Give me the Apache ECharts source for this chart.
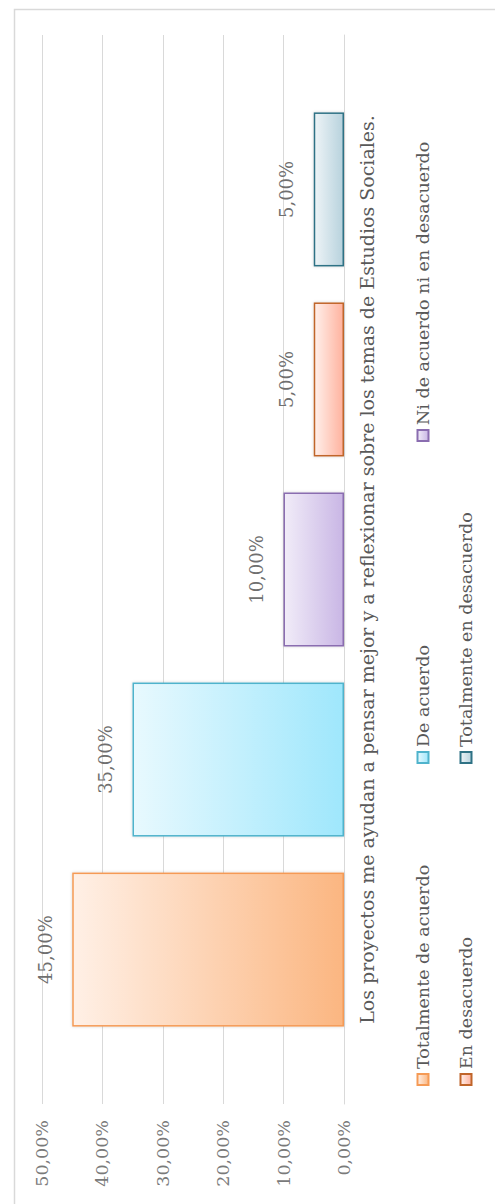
<!DOCTYPE html>
<html>
<head>
<meta charset="utf-8">
<script src="https://cdn.jsdelivr.net/npm/echarts@6/dist/echarts.min.js"></script>
<style>
  html, body { margin: 0; padding: 0; background: #ffffff; }
  body { width: 495px; height: 1204px; overflow: hidden; position: relative; }
  #chart {
    position: absolute; left: 0; top: 0;
    width: 1204px; height: 495px;
    transform-origin: 0 0;
    transform: translate(0px, 1204px) rotate(-90deg);
  }
</style>
</head>
<body>
<div id="chart"></div>
<script>
// ---- data ----
const categories = ['Los proyectos me ayudan a pensar mejor y a reflexionar sobre los temas de Estudios Sociales.'];
const seriesNames = ['Totalmente de acuerdo', 'De acuerdo', 'Ni de acuerdo ni en desacuerdo', 'En desacuerdo', 'Totalmente en desacuerdo'];
const seriesValues = [0.45, 0.35, 0.10, 0.05, 0.05];
const axisMin = 0, axisMax = 0.5, axisStep = 0.1;

// ---- styles ----
const barStyles = [
  { light: '#fff0e6', dark: '#fbb681', border: '#f59a55' },
  { light: '#e8f9fe', dark: '#9fe7fc', border: '#4fb3cc' },
  { light: '#f1ecf8', dark: '#c9b6e5', border: '#8a6db0' },
  { light: '#fff0eb', dark: '#ffb29e', border: '#c0652a' },
  { light: '#eef4f7', dark: '#b7d2dd', border: '#2f7285' }
];
const legendPos = [
  { left: 118, top: 414 }, { left: 440, top: 414 }, { left: 762, top: 414 },
  { left: 118, top: 457 }, { left: 440, top: 457 }
];
const serif = '"DejaVu Serif", "Liberation Serif", serif';
const fmt = v => (v * 100).toFixed(2).replace('.', ',') + '%';

const chart = echarts.init(document.getElementById('chart'), null, { renderer: 'svg', width: 1204, height: 495 });

const series = seriesNames.map((name, i) => ({
  name: name,
  type: 'bar',
  data: [seriesValues[i]],
  barWidth: 154,
  barGap: '23.4%',
  itemStyle: {
    color: new echarts.graphic.LinearGradient(0, 0, 0, 1, [
      { offset: 0, color: barStyles[i].light },
      { offset: 1, color: barStyles[i].dark }
    ]),
    borderColor: barStyles[i].border,
    borderWidth: 1.5,
    shadowColor: 'rgba(0,0,0,0.18)',
    shadowBlur: 3
  },
  label: {
    show: true,
    position: 'top',
    distance: 18,
    formatter: p => fmt(p.value),
    color: '#6f6f6f',
    fontFamily: serif,
    fontSize: 18
  }
}));

const legends = seriesNames.map((name, i) => ({
  data: [name],
  left: legendPos[i].left,
  top: legendPos[i].top,
  orient: 'horizontal',
  padding: 0,
  itemWidth: 11,
  itemHeight: 11,
  icon: 'rect',
  selectedMode: false,
  textStyle: { color: '#595959', fontFamily: serif, fontSize: 17.5 }
}));

chart.setOption({
  backgroundColor: '#ffffff',
  animation: false,
  grid: { left: 100, right: 35, top: 42, bottom: 151, containLabel: false },
  legend: legends,
  graphic: [{
    type: 'rect',
    shape: { x: -10, y: 14.5, width: 1204.5, height: 600 },
    style: { fill: 'none', stroke: '#d9d9d9', lineWidth: 1.5 },
    silent: true
  }],
  xAxis: {
    type: 'category',
    data: categories,
    axisLine: { show: true, lineStyle: { color: '#d9d9d9' } },
    axisTick: { show: false },
    axisLabel: {
      margin: 13,
      color: '#595959',
      fontFamily: serif,
      fontSize: 19
    }
  },
  yAxis: {
    type: 'value',
    min: axisMin,
    max: axisMax,
    interval: axisStep,
    axisLine: { show: false },
    axisTick: { show: false },
    splitLine: { show: true, lineStyle: { color: '#d9d9d9', width: 1 } },
    axisLabel: {
      margin: 16,
      align: 'right',
      color: '#7a7a7a',
      fontFamily: serif,
      fontSize: 17.5,
      formatter: v => fmt(v)
    }
  },
  series: series
});
</script>
</body>
</html>
